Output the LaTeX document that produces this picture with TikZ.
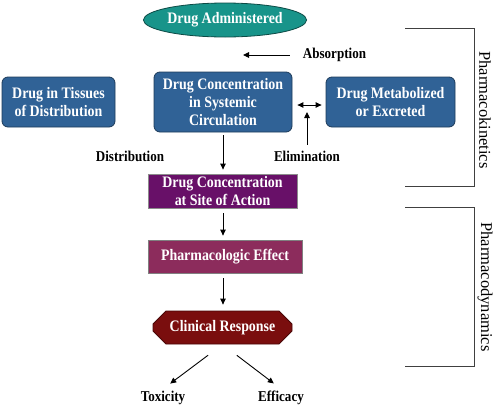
\documentclass[tikz,border=0pt]{standalone}
\usepackage{fontspec}
\setmainfont{Liberation Serif}[FakeStretch=0.87]
\newfontfamily\phasefont{Liberation Serif}
\usetikzlibrary{shapes.geometric,shapes.misc,arrows.meta}

\definecolor{admteal}{RGB}{24,148,138}
\definecolor{pkblue}{RGB}{48,98,150}
\definecolor{siteviolet}{RGB}{104,16,104}
\definecolor{effectrose}{RGB}{140,44,92}
\definecolor{clinred}{RGB}{122,14,14}

\tikzset{
  arr/.style={-{Triangle[length=6pt,width=5.5pt]},line width=0.9pt},
  boxtext/.style={text=white,align=center,inner sep=0pt,
    font=\bfseries\fontsize{16}{18}\selectfont},
  pkbox/.style={boxtext,rectangle,rounded corners=6pt,fill=pkblue,
    draw=pkblue!60!black,line width=0.8pt},
  lbl/.style={inner sep=2pt,font=\bfseries\fontsize{15}{17}\selectfont},
  phase/.style={rotate=-90,inner sep=0pt,font=\phasefont\fontsize{16.5}{20}\selectfont},
  brace/.style={line width=1pt,draw=black!75}
}

\begin{document}
\begin{tikzpicture}[x=1pt,y=-1pt]
  \useasboundingbox (0,0) rectangle (500,410);

  % top
  \node[boxtext,ellipse,fill=admteal,draw=admteal!50!black,line width=0.8pt,
    minimum width=162pt,minimum height=34pt] (adm) at (225,20) {Drug Administered};
  \node[lbl] (absorb) at (334.5,55) {Absorption};
  \coordinate (abstip) at (243,55);

  % pharmacokinetics row
  \node[pkbox,minimum width=113pt,minimum height=50pt] (tissue) at (58.5,102)
    {Drug in Tissues\\of Distribution};
  \node[pkbox,minimum width=138pt,minimum height=60pt] (sys) at (223,102)
    {Drug Concentration\\in Systemic\\Circulation};
  \node[pkbox,minimum width=129pt,minimum height=50pt] (met) at (390.5,102)
    {Drug Metabolized\\or Excreted};

  \node[lbl] (distr) at (130,156) {Distribution};
  \node[lbl] (elim) at (307,156) {Elimination};
  \coordinate (elimtip) at (307,112);

  % pharmacodynamics column
  \node[boxtext,rectangle,fill=siteviolet,draw=black!45,line width=0.8pt,
    minimum width=149pt,minimum height=34pt] (site) at (222.5,191)
    {Drug Concentration\\at Site of Action};
  \node[boxtext,rectangle,fill=effectrose,draw=black!50,line width=0.8pt,
    minimum width=154pt,minimum height=33pt] (effect) at (225,256.5)
    {Pharmacologic Effect};
  \node[boxtext,chamfered rectangle,chamfered rectangle xsep=7pt,
    chamfered rectangle ysep=6pt,fill=clinred,draw=clinred!60!black,line width=0.8pt,
    minimum width=139pt,minimum height=33pt] (clin) at (222.5,327.5)
    {Clinical Response};

  % outcomes
  \node[lbl] (tox) at (163,398) {Toxicity};
  \node[lbl] (eff) at (281,398) {Efficacy};

  % brackets
  \coordinate (pktop) at (405,28);
  \coordinate (pkbot) at (405,186);
  \coordinate (pdtop) at (405,207);
  \coordinate (pdbot) at (405,366);
  \node[phase] (pklabel) at (485,110) {Pharmacokinetics};
  \node[phase] (pdlabel) at (485,287) {Pharmacodynamics};

  % connectors
  \draw[arr,shorten <=11pt] (absorb.west) -- (abstip);
  \draw[{Triangle[length=6pt,width=5.5pt]}-{Triangle[length=6pt,width=5.5pt]},line width=0.9pt,
    shorten <=5pt,shorten >=4pt] ([yshift=-3pt]sys.east) -- ([yshift=-3pt]met.west);
  \draw[arr,shorten <=4pt] (elim.north) -- (elimtip);
  \draw[arr,shorten <=3pt,shorten >=4pt] (sys.south) -- (sys.south |- site.north);
  \draw[arr,shorten <=5pt,shorten >=4pt] (sys.south |- site.south) -- (sys.south |- effect.north);
  \draw[arr,shorten <=5pt,shorten >=6pt] (sys.south |- effect.south) -- (sys.south |- clin.north);
  \draw[arr,shorten <=18pt,shorten >=9pt] (clin.south) -- (tox.north);
  \draw[arr,shorten <=18pt,shorten >=9pt] (clin.south) -- (eff.north);

  \draw[brace] (pktop) -- ++(69,0) |- (pkbot);
  \draw[brace] (pdtop) -- ++(69,0) |- (pdbot);
\end{tikzpicture}
\end{document}
